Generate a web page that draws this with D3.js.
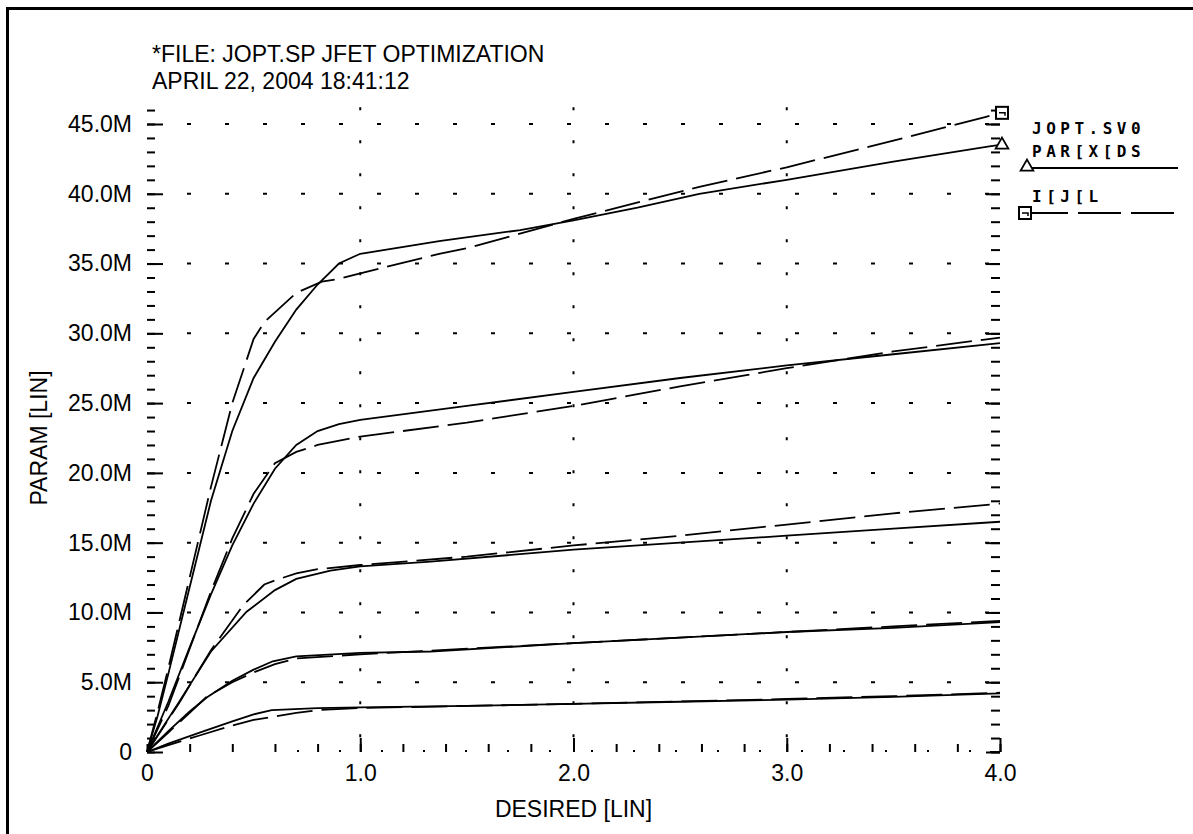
<!DOCTYPE html>
<html>
<head>
<meta charset="utf-8">
<script src="https://cdn.jsdelivr.net/npm/d3@7"></script>
<style>
  body { margin: 0; background: #fff; }
  text { font-family: "Liberation Sans", Arial, sans-serif; fill: #000; }
  .mono { font-family: "DejaVu Sans Mono", monospace; font-weight: bold; }
</style>
</head>
<body>
<svg id="chart" width="1193" height="834"></svg>
<script>
// Axis ticks and labels
const xMajor = [0, 1, 2, 3, 4];
const xTickLabels = ["0", "1.0", "2.0", "3.0", "4.0"];
const xMinor = d3.range(0, 21).map(i => i * 0.2);
const yMajor = [0, 5, 10, 15, 20, 25, 30, 35, 40, 45];
const yTickLabels = ["0", "5.0M", "10.0M", "15.0M", "20.0M", "25.0M", "30.0M", "35.0M", "40.0M", "45.0M"];
const yMinor = d3.range(0, 47);

// Simulated drain current PAR(IDS), [Vds, Ids in M-units], one list per gate bias
const parIds1 = [[0,0],[0.05,2.6],[0.1,5.6],[0.2,11.8],[0.3,18.0],[0.4,23.0],[0.5,26.8],[0.6,29.4],[0.7,31.7],[0.8,33.5],[0.9,35.0],[1.0,35.7],[1.37,36.6],[1.75,37.4],[2.0,38.1],[2.3,39.0],[2.59,40.0],[3.0,41.0],[3.5,42.3],[3.95,43.4],[4.0,43.5]];
const parIds2 = [[0,0],[0.1,3.6],[0.2,7.5],[0.3,11.3],[0.4,14.8],[0.5,17.8],[0.6,20.3],[0.7,22.0],[0.8,23.0],[0.9,23.5],[1.0,23.8],[1.5,24.8],[2.0,25.8],[2.5,26.8],[3.0,27.7],[3.5,28.5],[4.0,29.3]];
const parIds3 = [[0,0],[0.155,3.7],[0.3,7.2],[0.467,10.05],[0.6,11.6],[0.7,12.4],[0.86,13.0],[1.0,13.3],[1.33,13.64],[2.0,14.5],[2.5,15.0],[3.0,15.5],[3.5,16.0],[4.0,16.5]];
const parIds4 = [[0,0],[0.1,1.5],[0.2,2.9],[0.28,3.9],[0.4,5.1],[0.5,5.9],[0.59,6.5],[0.7,6.85],[1.0,7.1],[1.33,7.2],[2.0,7.8],[2.5,8.2],[3.0,8.6],[3.5,8.9],[4.0,9.3]];
const parIds5 = [[0,0],[0.1,0.6],[0.25,1.4],[0.4,2.2],[0.5,2.7],[0.585,3.0],[0.8,3.15],[1.0,3.2],[1.5,3.3],[2.0,3.45],[2.5,3.6],[3.0,3.75],[3.5,3.95],[4.0,4.2]];

// Measured drain current I(J1)
const iJ1_1 = [[0,0],[0.05,2.9],[0.1,6.0],[0.2,12.5],[0.3,19.0],[0.4,25.0],[0.5,29.6],[0.55,30.8],[0.6,31.5],[0.7,32.9],[0.82,33.7],[0.9,33.9],[1.0,34.3],[1.37,35.7],[1.5,36.1],[2.0,38.2],[2.59,40.5],[3.0,41.9],[3.5,43.8],[3.93,45.5],[4.0,45.8]];
const iJ1_2 = [[0,0],[0.1,3.3],[0.2,7.4],[0.3,11.5],[0.4,15.3],[0.5,18.5],[0.6,20.7],[0.7,21.5],[0.8,22.0],[1.0,22.6],[1.5,23.6],[2.0,24.8],[2.5,26.2],[3.0,27.5],[3.5,28.7],[4.0,29.7]];
const iJ1_3 = [[0,0],[0.15,3.5],[0.3,7.3],[0.45,10.5],[0.55,12.0],[0.6,12.3],[0.7,12.8],[0.8,13.1],[1.0,13.4],[1.5,14.0],[2.0,14.8],[2.5,15.5],[3.0,16.3],[3.5,17.1],[4.0,17.8]];
const iJ1_4 = [[0,0],[0.1,1.4],[0.2,2.8],[0.28,3.96],[0.4,5.0],[0.5,5.7],[0.6,6.3],[0.7,6.7],[1.0,7.0],[2.0,7.8],[3.0,8.6],[3.5,9.0],[4.0,9.4]];
const iJ1_5 = [[0,0],[0.1,0.5],[0.25,1.2],[0.4,1.9],[0.5,2.3],[0.6,2.55],[0.7,2.8],[0.8,3.0],[1.0,3.15],[2.0,3.45],[3.0,3.8],[3.5,4.0],[4.0,4.25]];

const parIdsSeries = [parIds1, parIds2, parIds3, parIds4, parIds5];
const iJ1Series = [iJ1_1, iJ1_2, iJ1_3, iJ1_4, iJ1_5];

const titleLines = ["*FILE: JOPT.SP JFET OPTIMIZATION", "APRIL 22, 2004 18:41:12"];
const legendNames = ["JOPT.SV0", "PAR[X[DS", "I[J[L"];

const FS = 23;
const svg = d3.select("#chart");

// page frame
svg.append("rect").attr("x", 7.5).attr("y", 8.5).attr("width", 1200).attr("height", 840)
  .attr("fill", "none").attr("stroke", "#000").attr("stroke-width", 3);

const x = d3.scaleLinear().domain([0, 4]).range([147, 1000]);
const y = d3.scaleLinear().domain([0, 45]).range([752, 124]);

// dotted grid
const grid = svg.append("g").attr("stroke", "#000").attr("stroke-width", 2);
grid.selectAll("line.h").data(yMajor.slice(1)).join("line")
  .attr("x1", x(0) + 40).attr("x2", x(4) - 8)
  .attr("y1", d => y(d)).attr("y2", d => y(d))
  .attr("stroke-dasharray", "4,34");
grid.selectAll("line.h0").data([0]).join("line")
  .attr("x1", x(0) + 150).attr("x2", x(4) - 8)
  .attr("y1", y(0) - 1).attr("y2", y(0) - 1)
  .attr("stroke-dasharray", "2,40");
grid.selectAll("line.v").data(xMajor.slice(1, 4)).join("line")
  .attr("x1", d => x(d)).attr("x2", d => x(d))
  .attr("y1", y(46.2)).attr("y2", y(0) - 10)
  .attr("stroke-dasharray", "3,30");

function plainAxis(g) {
  g.select(".domain").remove();
  g.selectAll("text").remove();
  g.selectAll("line").attr("stroke", "#000").attr("stroke-width", 2);
}

// left axis ticks (pointing inward)
svg.append("g").attr("transform", `translate(${x(0)},0)`)
  .call(d3.axisRight(y).tickValues(yMinor).tickSize(8)).call(plainAxis);
svg.append("g").attr("transform", `translate(${x(0)},0)`)
  .call(d3.axisRight(y).tickValues(yMajor).tickSize(16)).call(plainAxis);
// right axis ticks
svg.append("g").attr("transform", `translate(${x(4)},0)`)
  .call(d3.axisLeft(y).tickValues(yMinor).tickSize(9)).call(plainAxis);
svg.append("g").attr("transform", `translate(${x(4)},0)`)
  .call(d3.axisLeft(y).tickValues(yMajor).tickSize(14)).call(plainAxis);
// bottom axis ticks
svg.append("g").attr("transform", `translate(0,${y(0)})`)
  .call(d3.axisTop(x).tickValues(xMinor).tickSize(8)).call(plainAxis);
svg.append("g").attr("transform", `translate(0,${y(0)})`)
  .call(d3.axisTop(x).tickValues(xMajor.slice(1)).tickSize(14)).call(plainAxis);
svg.append("line").attr("x1", x(4) - 10).attr("x2", x(4)).attr("y1", y(0)).attr("y2", y(0))
  .attr("stroke", "#000").attr("stroke-width", 2);

// tick labels
const yLab = svg.append("g").attr("transform", `translate(${x(0)},0)`)
  .call(d3.axisLeft(y).tickValues(yMajor).tickFormat((d, i) => yTickLabels[i]).tickSize(0).tickPadding(15));
yLab.select(".domain").remove();
yLab.selectAll("text").attr("font-size", FS).attr("font-family", "Liberation Sans, Arial, sans-serif");

const xLab = svg.append("g").attr("transform", `translate(0,${y(0)})`)
  .call(d3.axisBottom(x).tickValues(xMajor).tickFormat((d, i) => xTickLabels[i]).tickSize(0).tickPadding(13));
xLab.select(".domain").remove();
xLab.selectAll("text").attr("font-size", FS).attr("font-family", "Liberation Sans, Arial, sans-serif");

// axis titles
svg.append("text").attr("x", (x(0) + x(4)) / 2).attr("y", 817).attr("text-anchor", "middle")
  .attr("font-size", FS).text("DESIRED [LIN]");
svg.append("text").attr("transform", `translate(47,${y(22.5)}) rotate(-90)`).attr("text-anchor", "middle")
  .attr("font-size", FS).text("PARAM [LIN]");

// title block
svg.append("g").selectAll("text").data(titleLines).join("text")
  .attr("x", 152).attr("y", (d, i) => 62 + i * 27).attr("font-size", FS).text(d => d);

// curves
const line = d3.line().x(d => x(d[0])).y(d => y(d[1]));
const curves = svg.append("g").attr("fill", "none").attr("stroke", "#000").attr("stroke-width", 1.8);
curves.selectAll("path.sim").data(parIdsSeries).join("path").attr("class", "sim").attr("d", line);
curves.selectAll("path.meas").data(iJ1Series).join("path").attr("class", "meas").attr("d", line)
  .attr("stroke-dasharray", "36,9");

// end markers
const tri = d3.symbol().type(d3.symbolTriangle).size(70);
function square(g, cx, cy) {
  g.append("rect").attr("x", cx - 6).attr("y", cy - 6).attr("width", 12).attr("height", 12)
    .attr("fill", "#fff").attr("stroke", "#000").attr("stroke-width", 2);
  g.append("path").attr("d", `M${cx - 3},${cy}H${cx + 3}V${cy + 3}`).attr("fill", "none")
    .attr("stroke", "#000").attr("stroke-width", 1.5);
}
const lastSim = parIds1[parIds1.length - 1];
const lastMeas = iJ1_1[iJ1_1.length - 1];
const mk = svg.append("g");
square(mk, x(lastMeas[0]) + 2, y(lastMeas[1]));
mk.append("path").attr("d", tri).attr("transform", `translate(${x(lastSim[0]) + 2},${y(lastSim[1])})`)
  .attr("fill", "#fff").attr("stroke", "#000").attr("stroke-width", 1.8);

// legend
const lg = svg.append("g");
lg.append("text").attr("class", "mono").attr("x", 1032).attr("y", 134).attr("font-size", 16)
  .attr("letter-spacing", 4.5).text(legendNames[0]);
lg.append("text").attr("class", "mono").attr("x", 1032).attr("y", 157).attr("font-size", 16)
  .attr("letter-spacing", 4.5).text(legendNames[1]);
lg.append("line").attr("x1", 1027).attr("x2", 1178).attr("y1", 168).attr("y2", 168)
  .attr("stroke", "#000").attr("stroke-width", 2);
lg.append("path").attr("d", tri).attr("transform", "translate(1027,167)")
  .attr("fill", "#fff").attr("stroke", "#000").attr("stroke-width", 1.8);
lg.append("text").attr("class", "mono").attr("x", 1032).attr("y", 202).attr("font-size", 16)
  .attr("letter-spacing", 4.5).text(legendNames[2]);
lg.append("line").attr("x1", 1025).attr("x2", 1178).attr("y1", 213).attr("y2", 213)
  .attr("stroke", "#000").attr("stroke-width", 2).attr("stroke-dasharray", "43,10");
square(lg, 1025, 213);
</script>
</body>
</html>
